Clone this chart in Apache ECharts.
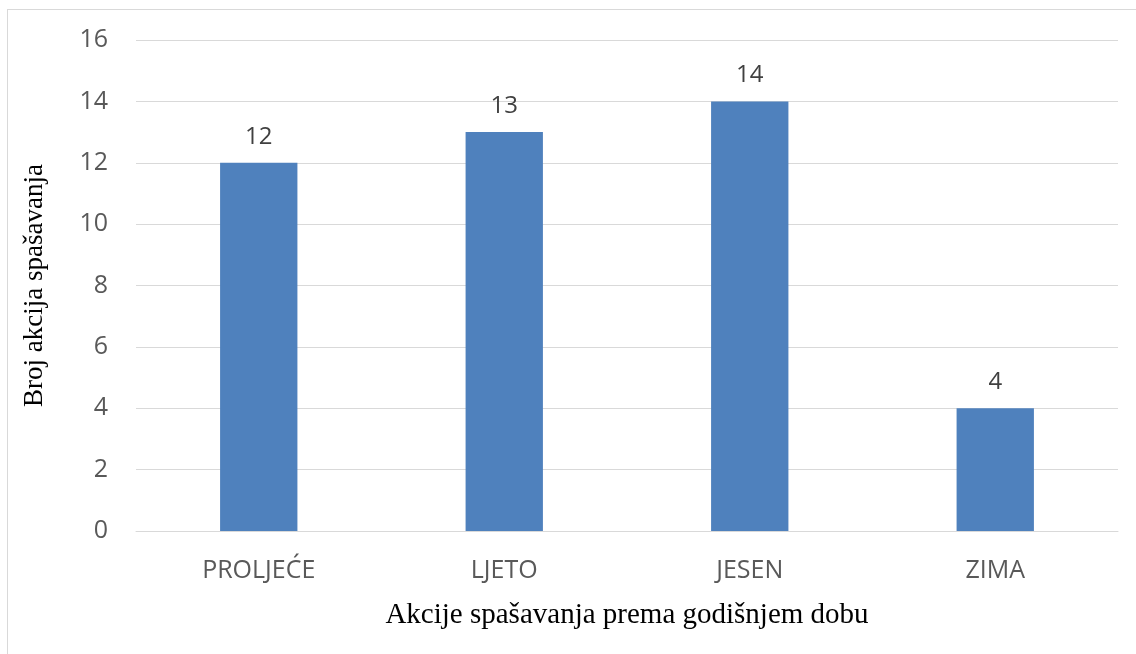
<!DOCTYPE html>
<html>
<head>
<meta charset="utf-8">
<script src="https://cdn.jsdelivr.net/npm/echarts@6/dist/echarts.min.js"></script>
<style>
  html, body { margin: 0; padding: 0; background: #fff; }
  .frame {
    position: absolute;
    left: 7px;
    top: 9px;
    width: 1140px;
    height: 660px;
    border: 1px solid #d9d9d9;
  }
  #chart {
    position: absolute;
    left: 0;
    top: 0;
    width: 1136px;
    height: 654px;
  }
</style>
</head>
<body>
<div class="frame"></div>
<div id="chart"></div>
<script>
const seasons = ['PROLJEĆE', 'LJETO', 'JESEN', 'ZIMA']
const rescueCounts = [12, 13, 14, 4]

const chart = echarts.init(document.getElementById('chart'))

chart.setOption({
  animation: false,
  grid: {
    left: 136,
    right: 18,
    top: 40,
    bottom: 123
  },
  xAxis: {
    type: 'category',
    data: seasons,
    name: 'Akcije spašavanja prema godišnjem dobu',
    nameLocation: 'middle',
    nameGap: 70,
    nameTextStyle: {
      fontFamily: 'Liberation Serif',
      fontSize: 29,
      color: '#000'
    },
    axisLine: { show: true, lineStyle: { color: '#d9d9d9', width: 1 } },
    axisTick: { show: false },
    axisLabel: {
      margin: 27,
      fontFamily: 'Open Sans',
      fontSize: 25,
      color: '#595959'
    }
  },
  yAxis: {
    type: 'value',
    min: 0,
    max: 16,
    interval: 2,
    name: 'Broj akcija spašavanja',
    nameLocation: 'middle',
    nameGap: 88,
    nameTextStyle: {
      fontFamily: 'Liberation Serif',
      fontSize: 27,
      color: '#000'
    },
    axisLine: { show: false },
    axisTick: { show: false },
    axisLabel: {
      margin: 28,
      fontFamily: 'Open Sans',
      fontSize: 25,
      color: '#595959'
    },
    splitLine: { lineStyle: { color: '#d9d9d9', width: 1 } }
  },
  series: [
    {
      type: 'bar',
      data: rescueCounts,
      barWidth: '31.5%',
      itemStyle: { color: '#4f81bd' },
      label: {
        show: true,
        position: 'top',
        distance: 14,
        fontFamily: 'Open Sans',
        fontSize: 24,
        color: '#404040'
      }
    }
  ]
})
</script>
</body>
</html>
